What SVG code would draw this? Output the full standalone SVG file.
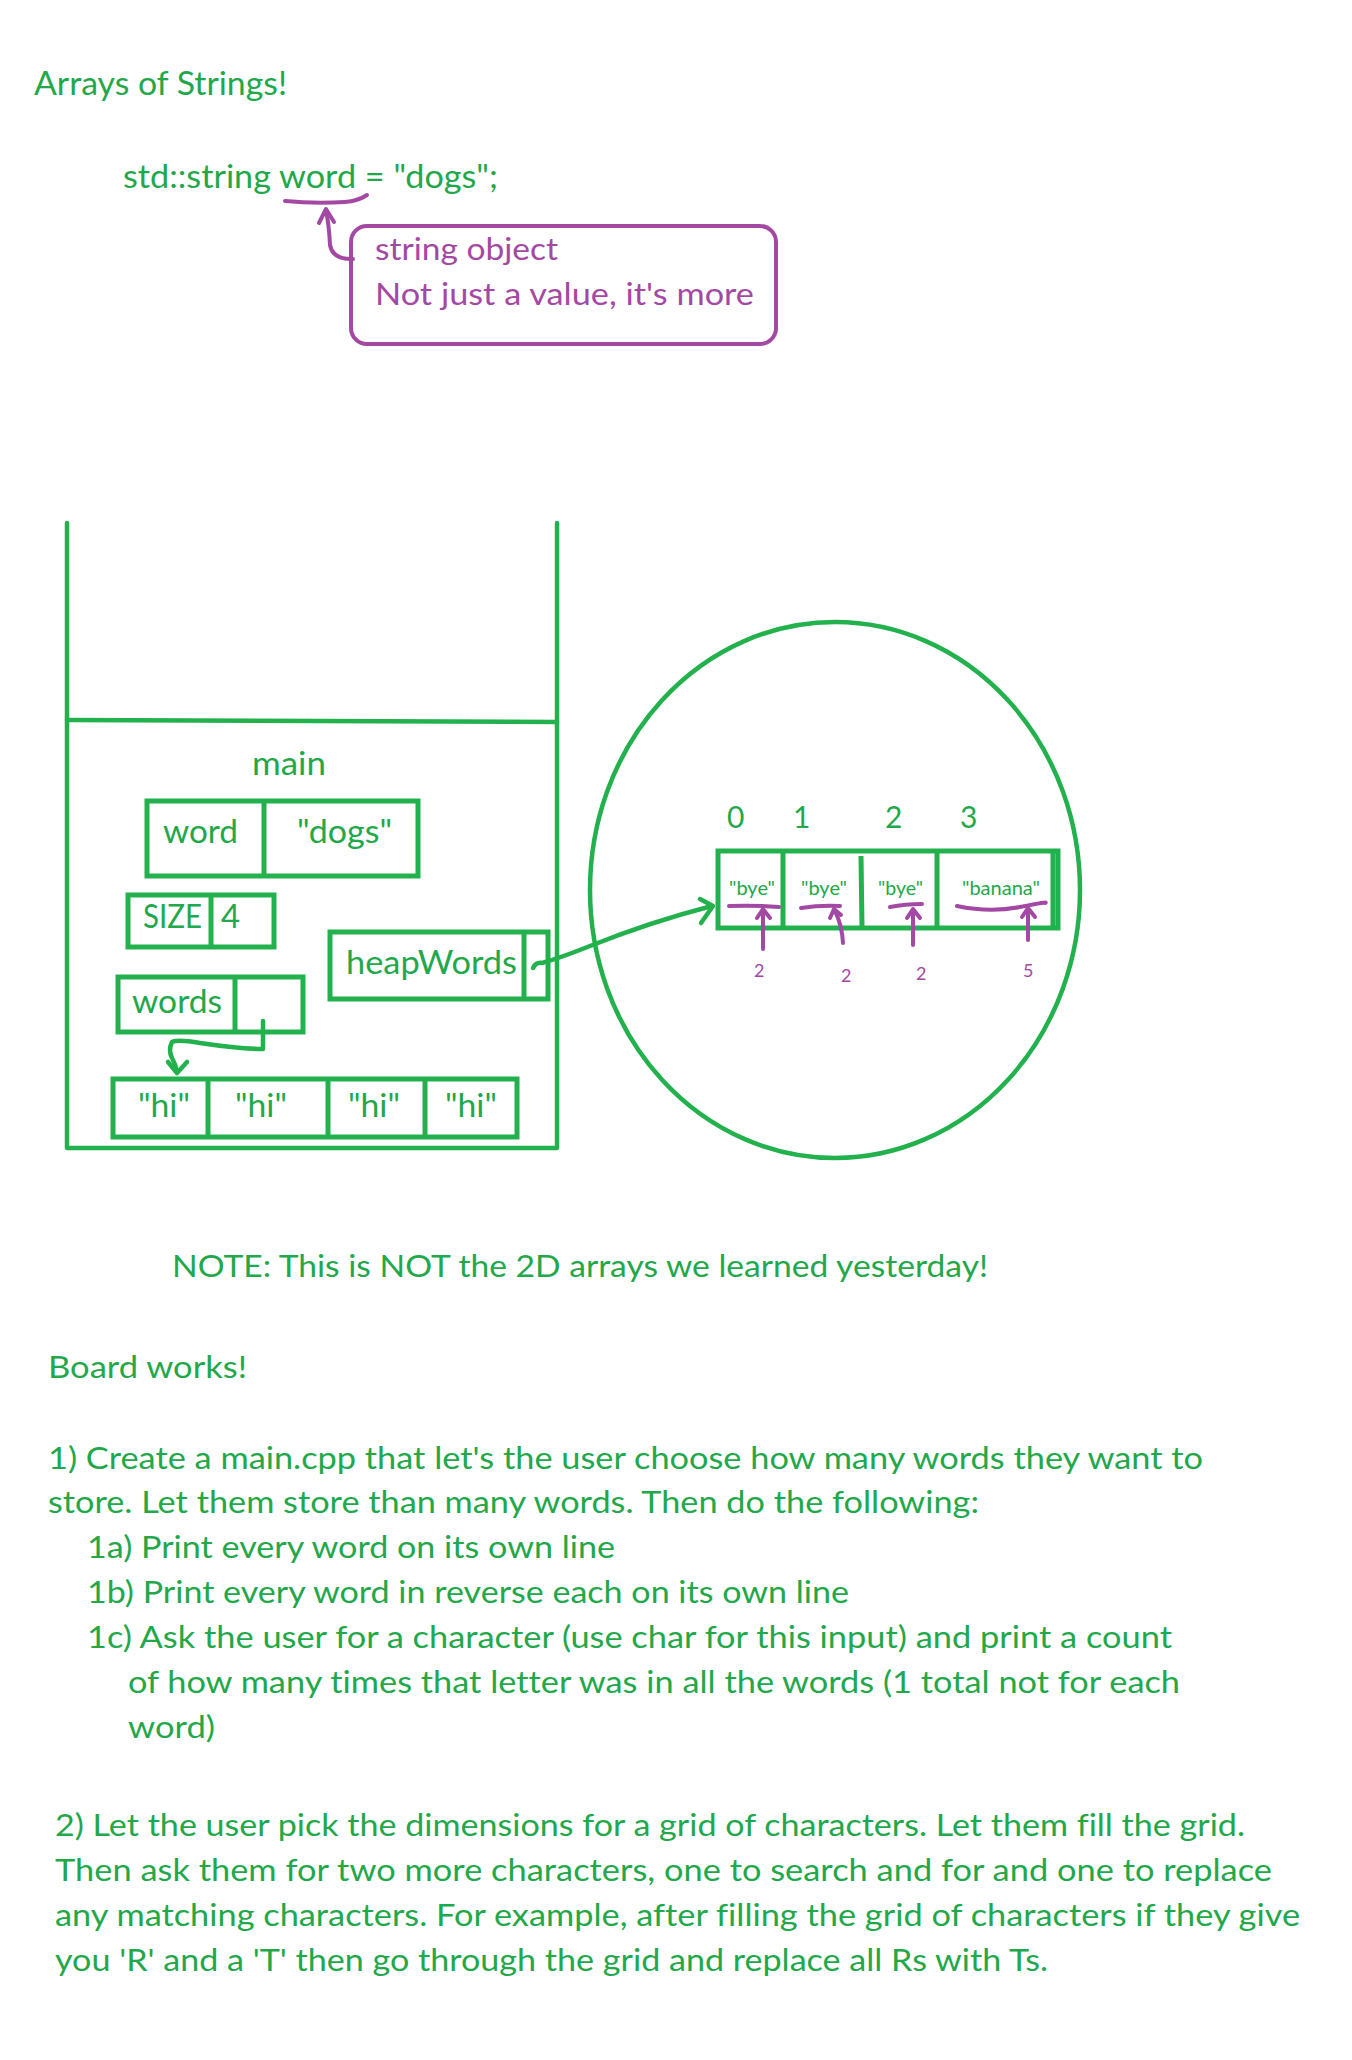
<svg xmlns="http://www.w3.org/2000/svg" width="1352" height="2060" viewBox="0 0 1352 2060">
<style>
  .g { fill: #22a84a; font-family: Lato, "Liberation Sans", sans-serif; font-variant-ligatures: none; }
  .p { fill: #a349a4; font-family: Lato, "Liberation Sans", sans-serif; font-variant-ligatures: none; }
  .body { font-size: 31px; }
  .big { font-size: 33px; }
  .lbl { font-size: 33px; }
  .cell { font-size: 19px; }
  .idx { font-size: 30px; }
  .num { font-size: 18px; }
  .box { fill: none; stroke: #22b14c; stroke-width: 5; }
  .gl { fill: none; stroke: #22b14c; stroke-width: 4.5; stroke-linecap: round; stroke-linejoin: round; }
  .pl { fill: none; stroke: #a349a4; stroke-width: 4; stroke-linecap: round; stroke-linejoin: round; }
</style>
<rect width="1352" height="2060" fill="#ffffff"/>

<g id="title">
  <text class="g big" x="34" y="95" textLength="253" lengthAdjust="spacingAndGlyphs">Arrays of Strings!</text>
</g>
<g id="code-line">
  <text class="g big" x="123" y="188" textLength="375" lengthAdjust="spacingAndGlyphs">std::string word = "dogs";</text>
</g>
<g id="string-object-note">
  <rect x="351" y="226" width="425" height="118" rx="16" ry="16" fill="none" stroke="#a349a4" stroke-width="4"/>
  <text class="p body" x="375" y="260" textLength="183" lengthAdjust="spacingAndGlyphs">string object</text>
  <text class="p body" x="375" y="305" textLength="379" lengthAdjust="spacingAndGlyphs">Not just a value, it's more</text>
</g>

<g id="stack-frame">
  <path class="gl" d="M67,523 L67,1148 L557,1148 L557,523"/>
  <path class="gl" d="M67,720 L557,722"/>
  <text class="g lbl" x="252" y="775" textLength="74" lengthAdjust="spacingAndGlyphs">main</text>
</g>
<g id="word-var">
  <rect class="box" x="147" y="801" width="271" height="75"/>
  <line class="box" x1="264" y1="801" x2="264" y2="876"/>
  <text class="g lbl" x="163" y="843" textLength="75" lengthAdjust="spacingAndGlyphs">word</text>
  <text class="g lbl" x="297" y="843" textLength="95" lengthAdjust="spacingAndGlyphs">"dogs"</text>
</g>
<g id="size-var">
  <rect class="box" x="128" y="895" width="146" height="52"/>
  <line class="box" x1="211" y1="895" x2="211" y2="949"/>
  <text class="g lbl" x="143" y="928" textLength="59" lengthAdjust="spacingAndGlyphs">SIZE</text>
  <text class="g lbl" x="221" y="928">4</text>
</g>
<g id="heapwords-var">
  <rect class="box" x="330" y="932" width="218" height="67"/>
  <line class="box" x1="524" y1="932" x2="524" y2="999"/>
  <text class="g lbl" x="346" y="974" textLength="171" lengthAdjust="spacingAndGlyphs">heapWords</text>
</g>
<g id="words-var">
  <rect class="box" x="118" y="977" width="185" height="55"/>
  <line class="box" x1="235" y1="977" x2="235" y2="1032"/>
  <text class="g lbl" x="132" y="1013" textLength="90" lengthAdjust="spacingAndGlyphs">words</text>
</g>
<g id="hi-array">
  <rect class="box" x="113" y="1079" width="404" height="58"/>
  <line class="box" x1="208" y1="1079" x2="208" y2="1137"/>
  <line class="box" x1="328" y1="1079" x2="328" y2="1137"/>
  <line class="box" x1="425" y1="1079" x2="425" y2="1137"/>
  <text class="g lbl" x="138" y="1117" textLength="52" lengthAdjust="spacingAndGlyphs">"hi"</text>
  <text class="g lbl" x="235" y="1117" textLength="52" lengthAdjust="spacingAndGlyphs">"hi"</text>
  <text class="g lbl" x="348" y="1117" textLength="52" lengthAdjust="spacingAndGlyphs">"hi"</text>
  <text class="g lbl" x="445" y="1117" textLength="52" lengthAdjust="spacingAndGlyphs">"hi"</text>
</g>

<g id="heap">
  <ellipse cx="835" cy="890" rx="245" ry="268" fill="none" stroke="#22b14c" stroke-width="4.5"/>
</g>
<g id="heap-array">
  <rect class="box" x="718" y="851" width="340" height="77"/>
  <line class="box" x1="1053" y1="851" x2="1053" y2="928"/>
  <line class="box" x1="783" y1="851" x2="783" y2="928"/>
  <line class="box" x1="861" y1="856" x2="862" y2="928"/>
  <line class="box" x1="937" y1="851" x2="937" y2="928"/>
  <text class="g idx" x="727" y="828">0</text>
  <text class="g idx" x="793" y="828">1</text>
  <text class="g idx" x="885" y="828">2</text>
  <text class="g idx" x="960" y="828">3</text>
  <text class="g cell" x="729" y="895" textLength="46" lengthAdjust="spacingAndGlyphs">"bye"</text>
  <text class="g cell" x="801" y="895" textLength="46" lengthAdjust="spacingAndGlyphs">"bye"</text>
  <text class="g cell" x="878" y="895" textLength="45" lengthAdjust="spacingAndGlyphs">"bye"</text>
  <text class="g cell" x="962" y="895" textLength="78" lengthAdjust="spacingAndGlyphs">"banana"</text>
</g>

<g id="length-notes">
  <path class="pl" d="M729,906 Q755,905 779,907"/>
  <path class="pl" d="M801,908 Q820,905 840,906"/>
  <path class="pl" d="M890,907 Q905,904 922,904"/>
  <path class="pl" d="M957,906 Q990,913 1020,907 T1045,903"/>
  <text class="p num" x="754" y="977">2</text>
  <text class="p num" x="841" y="982">2</text>
  <text class="p num" x="916" y="980">2</text>
  <text class="p num" x="1023" y="977">5</text>
</g>

<g id="connectors">
  <path class="pl" d="M285,201 Q315,204 345,202 Q358,201 367,195"/>
  <path class="pl" d="M353,259 Q333,260 330,245 Q329,225 326,210"/>
  <path class="pl" d="M319,223 L326,209 L334,222"/>
  <path class="gl" d="M263,1021 L263,1049 Q240,1049 200,1043 Q178,1039 172,1042 Q168,1050 172,1058 Q176,1065 177,1072"/>
  <path class="gl" d="M168,1062 L177,1073 L187,1062"/>
  <path class="gl" d="M533,968 Q536,962 542,963 Q560,958 590,946 Q650,922 712,906"/>
  <path class="gl" d="M700,899 L713,906 L701,923"/>
  <path class="pl" d="M763,949 L763,911"/>
  <path class="pl" d="M757,918 L763,909 L770,918"/>
  <path class="pl" d="M843,943 Q842,925 835,911"/>
  <path class="pl" d="M830,918 L834,909 L841,915"/>
  <path class="pl" d="M913,945 L913,911"/>
  <path class="pl" d="M907,918 L913,909 L920,918"/>
  <path class="pl" d="M1028,940 L1028,910"/>
  <path class="pl" d="M1022,917 L1028,908 L1035,917"/>
</g>

<g id="note-text">
  <text class="g body" x="172" y="1277" textLength="816" lengthAdjust="spacingAndGlyphs">NOTE: This is NOT the 2D arrays we learned yesterday!</text>
</g>
<g id="board-works">
  <text class="g body" x="48" y="1378" textLength="199" lengthAdjust="spacingAndGlyphs">Board works!</text>
  <text class="g body" x="48" y="1469" textLength="1155" lengthAdjust="spacingAndGlyphs">1) Create a main.cpp that let's the user choose how many words they want to</text>
  <text class="g body" x="48" y="1513" textLength="931" lengthAdjust="spacingAndGlyphs">store. Let them store than many words. Then do the following:</text>
  <text class="g body" x="87" y="1558" textLength="528" lengthAdjust="spacingAndGlyphs">1a) Print every word on its own line</text>
  <text class="g body" x="87" y="1603" textLength="762" lengthAdjust="spacingAndGlyphs">1b) Print every word in reverse each on its own line</text>
  <text class="g body" x="87" y="1648" textLength="1085" lengthAdjust="spacingAndGlyphs">1c) Ask the user for a character (use char for this input) and print a count</text>
  <text class="g body" x="128" y="1693" textLength="1052" lengthAdjust="spacingAndGlyphs">of how many times that letter was in all the words (1 total not for each</text>
  <text class="g body" x="128" y="1738" textLength="87" lengthAdjust="spacingAndGlyphs">word)</text>
  <text class="g body" x="55" y="1836" textLength="1190" lengthAdjust="spacingAndGlyphs">2) Let the user pick the dimensions for a grid of characters. Let them fill the grid.</text>
  <text class="g body" x="55" y="1881" textLength="1217" lengthAdjust="spacingAndGlyphs">Then ask them for two more characters, one to search and for and one to replace</text>
  <text class="g body" x="55" y="1926" textLength="1245" lengthAdjust="spacingAndGlyphs">any matching characters. For example, after filling the grid of characters if they give</text>
  <text class="g body" x="55" y="1971" textLength="993" lengthAdjust="spacingAndGlyphs">you 'R' and a 'T' then go through the grid and replace all Rs with Ts.</text>
</g>
</svg>
